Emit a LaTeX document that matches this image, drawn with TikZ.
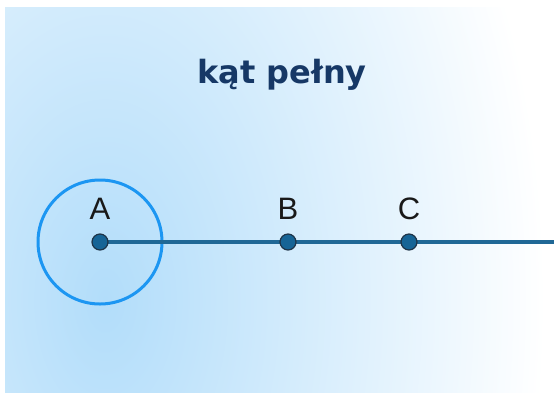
\documentclass[tikz,border=0pt]{standalone}
\usepackage{fontspec}
\setmainfont{Liberation Sans}
\newfontfamily\titlefont{DejaVu Sans}
\definecolor{bgblue}{RGB}{178,221,250}
\definecolor{ringblue}{RGB}{28,150,242}
\definecolor{raycol}{RGB}{32,104,150}
\definecolor{dotfill}{RGB}{22,100,150}
\definecolor{dotedge}{RGB}{30,52,72}
\definecolor{titlecol}{RGB}{22,56,102}
\definecolor{labcol}{RGB}{25,25,25}
\begin{document}
\begin{tikzpicture}[x=1pt,y=-1pt,
  dotpt/.style={circle,fill=dotfill,draw=dotedge,line width=1.2pt,minimum size=16pt,inner sep=0pt},
  lab/.style={font=\fontsize{31}{31}\selectfont,text=labcol,anchor=base},
  ray/.style={draw=raycol,line width=3.4pt},
  ring/.style={draw=ringblue,line width=3pt}]
\useasboundingbox (0,0) rectangle (554,392);
\fill[white] (0,0) rectangle (554,392);
\begin{scope}
  \clip (5,7) rectangle (554,392);
  \shade[inner color=bgblue,outer color=white] (105,300) ellipse (440 and 720);
\end{scope}
\node[anchor=base,text=titlecol,font=\titlefont\bfseries\fontsize{32}{32}\selectfont] (title) at (282,83) {kąt pełny};
\coordinate (A) at (100,242);
\coordinate (B) at (288,242);
\coordinate (C) at (409,242);
\coordinate (E) at (554,242);
\draw[ring] (A) circle (62);
\draw[ray] (A) -- (E);
\node[dotpt] (dA) at (A) {};
\node[dotpt] (dB) at (B) {};
\node[dotpt] (dC) at (C) {};
\node[lab] (lA) at (100,219) {A};
\node[lab] (lB) at (288,219) {B};
\node[lab] (lC) at (409,219) {C};
\end{tikzpicture}
\end{document}
